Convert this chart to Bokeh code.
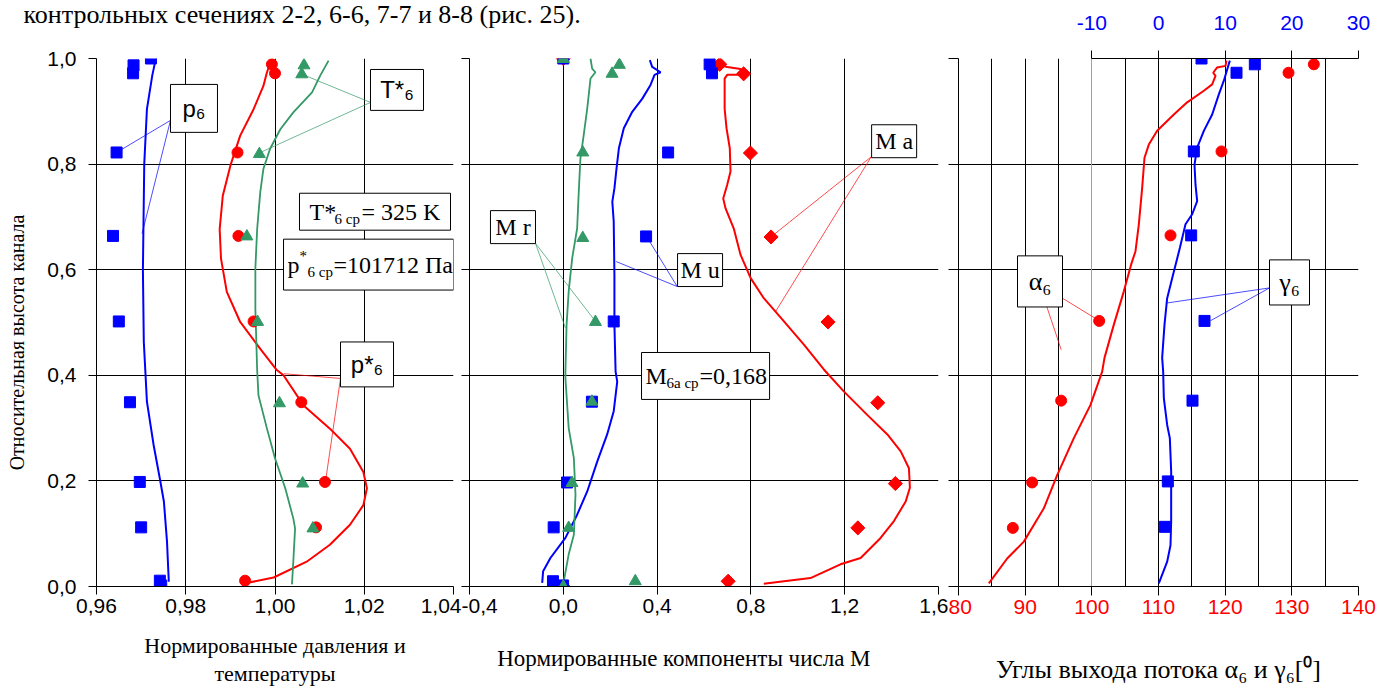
import math
from bokeh.plotting import figure
from bokeh.models import (Range1d, LinearAxis, FixedTicker, CustomJSTickFormatter,
                          Label, BoxAnnotation, Grid, Arrow)
from bokeh.layouts import row, column
from bokeh.embed import file_html
from bokeh.resources import INLINE

# ---------------- data ----------------
# Panel 1: normalised pressures and temperature
p6_x = [0.9722, 0.9683, 0.9682, 0.9645, 0.9637, 0.9650, 0.9675, 0.9697, 0.9700, 0.9742, 0.9745]
p6_y = [1.000, 0.987, 0.972, 0.822, 0.664, 0.502, 0.349, 0.198, 0.112, 0.011, 0.002]
p6_line_x = [0.9732, 0.9725, 0.9713, 0.9707, 0.9704, 0.9706, 0.9710, 0.9713, 0.9728, 0.9742, 0.9751, 0.9758, 0.9762]
p6_line_y = [0.996, 0.968, 0.904, 0.800, 0.599, 0.463, 0.399, 0.350, 0.268, 0.204, 0.161, 0.085, 0.009]

ps_x = [0.9993, 1.0000, 0.9916, 0.9918, 0.9952, 1.0059, 1.0112, 1.0092, 0.9933]
ps_y = [0.989, 0.972, 0.822, 0.664, 0.502, 0.349, 0.198, 0.112, 0.011]
ps_line_x = [0.9991, 0.9982, 0.9974, 0.9952, 0.9922, 0.9900, 0.9883, 0.9876, 0.9879, 0.9892, 0.9922,
             0.9967, 1.0004, 1.0019, 1.0064, 1.0123, 1.0168, 1.0198, 1.0206, 1.0198, 1.0168, 1.0123,
             1.0071, 0.9997, 0.9933]
ps_line_y = [0.996, 0.974, 0.948, 0.904, 0.854, 0.797, 0.740, 0.677, 0.621, 0.558, 0.501,
             0.450, 0.410, 0.400, 0.343, 0.299, 0.261, 0.217, 0.186, 0.154, 0.117, 0.079,
             0.047, 0.017, 0.006]

ts_x = [1.0065, 1.0060, 0.9965, 0.9937, 0.9961, 1.0010, 1.0062, 1.0085]
ts_y = [0.987, 0.970, 0.819, 0.663, 0.501, 0.347, 0.195, 0.110]
ts_line_x = [1.0120, 1.0101, 1.0083, 1.0041, 1.0012, 0.9989, 0.9974, 0.9967, 0.9960, 0.9956,
             0.9956, 0.9960, 0.9963, 0.9982, 1.0000, 1.0023, 1.0041, 1.0045, 1.0041, 1.0038]
ts_line_y = [0.996, 0.967, 0.936, 0.898, 0.866, 0.829, 0.791, 0.747, 0.677, 0.602,
             0.526, 0.410, 0.362, 0.299, 0.243, 0.186, 0.129, 0.110, 0.047, 0.004]

# Panel 2: Mach number components
mu_x = [0.000, 0.624, 0.634, 0.447, 0.353, 0.215, 0.122, 0.016, -0.041, -0.044, -0.001]
mu_y = [1.000, 0.989, 0.972, 0.822, 0.663, 0.502, 0.350, 0.197, 0.112, 0.010, 0.002]
mr_x = [0.000, 0.239, 0.208, 0.083, 0.083, 0.137, 0.122, 0.037, 0.023, 0.307, 0.000]
mr_y = [0.999, 0.988, 0.971, 0.822, 0.660, 0.501, 0.350, 0.196, 0.111, 0.010, 0.000]
ma_x = [0.000, 0.667, 0.769, 0.798, 0.886, 1.129, 1.341, 1.416, 1.256, 0.703, 0.000]
ma_y = [1.000, 0.989, 0.971, 0.821, 0.662, 0.501, 0.348, 0.195, 0.111, 0.010, 0.000]

mr_line_x = [0.116, 0.123, 0.137, 0.116, 0.102, 0.087, 0.073, 0.066, 0.059, 0.038, 0.023,
             0.014, 0.009, 0.009, 0.023, 0.045, 0.052, 0.045, 0.023, 0.002]
mr_line_y = [1.000, 0.981, 0.974, 0.962, 0.905, 0.855, 0.811, 0.748, 0.678, 0.622, 0.559,
             0.496, 0.407, 0.395, 0.300, 0.243, 0.174, 0.098, 0.061, 0.010]
mu_line_x = [0.369, 0.379, 0.415, 0.389, 0.372, 0.337, 0.294, 0.258, 0.237, 0.227, 0.218, 0.209,
             0.215, 0.218, 0.218, 0.223, 0.230, 0.215, 0.187, 0.145, 0.102, 0.059, 0.009,
             -0.055, -0.086, -0.090]
mu_line_y = [0.997, 0.984, 0.974, 0.969, 0.950, 0.924, 0.899, 0.868, 0.830, 0.792, 0.754, 0.729,
             0.691, 0.590, 0.496, 0.407, 0.388, 0.332, 0.288, 0.237, 0.180, 0.136, 0.092,
             0.054, 0.029, 0.007]
ma_line_x = [0.657, 0.663, 0.699, 0.756, 0.768, 0.756, 0.699, 0.688, 0.688, 0.696, 0.710, 0.713,
             0.699, 0.682, 0.692, 0.727, 0.756, 0.799, 0.855, 0.941, 1.026, 1.111, 1.197, 1.296,
             1.382, 1.439, 1.474, 1.478, 1.460, 1.410, 1.353, 1.268, 1.182, 1.054, 0.941, 0.855]
ma_line_y = [0.997, 0.988, 0.984, 0.980, 0.972, 0.969, 0.969, 0.962, 0.905, 0.868, 0.830, 0.786,
             0.761, 0.735, 0.716, 0.678, 0.628, 0.584, 0.546, 0.502, 0.458, 0.411, 0.369, 0.325,
             0.288, 0.256, 0.224, 0.187, 0.161, 0.124, 0.092, 0.054, 0.042, 0.016, 0.010, 0.005]

# Panel 3: flow angles (alpha on bottom axis, gamma on top axis)
al_x = [133.3, 129.5, 119.45, 111.8, 101.1, 95.4, 91.05, 88.15]
al_y = [0.989, 0.973, 0.824, 0.665, 0.503, 0.352, 0.197, 0.111]
ga_x = [6.45, 14.45, 11.7, 5.3, 4.9, 6.9, 5.1, 1.4, 0.95]
ga_y = [1.000, 0.989, 0.973, 0.824, 0.665, 0.503, 0.352, 0.199, 0.113]
al_line_x = [120.2, 120.05, 118.8, 118.2, 118.55, 118.05, 116.8, 114.3, 112.3, 109.8, 108.55,
             107.9, 107.55, 107.05, 106.55, 105.9, 104.8, 103.3, 101.9, 101.55, 99.8, 97.3,
             94.8, 92.8, 89.8, 87.3, 84.55]
al_line_y = [0.996, 0.986, 0.983, 0.973, 0.967, 0.951, 0.939, 0.917, 0.894, 0.863, 0.837,
             0.812, 0.755, 0.686, 0.635, 0.610, 0.559, 0.496, 0.433, 0.407, 0.344, 0.281,
             0.211, 0.148, 0.085, 0.053, 0.006]
ga_line_x = [10.7, 9.8, 9.05, 8.05, 6.8, 5.8, 5.4, 5.55, 5.8, 5.05, 4.05, 3.2, 2.05, 1.3, 0.9,
             0.55, 0.7, 0.8, 1.3, 1.7, 1.9, 1.9, 1.8, 1.3, 0.05]
ga_line_y = [0.996, 0.958, 0.932, 0.894, 0.863, 0.831, 0.799, 0.761, 0.730, 0.705, 0.686, 0.641,
             0.584, 0.546, 0.496, 0.433, 0.407, 0.357, 0.306, 0.281, 0.218, 0.123, 0.078, 0.047,
             0.006]

y_ticks = [0.0, 0.2, 0.4, 0.6, 0.8, 1.0]
x1_ticks = [0.96, 0.98, 1.00, 1.02, 1.04]
x2_ticks = [-0.4, 0.0, 0.4, 0.8, 1.2, 1.6]
x3_ticks = [80, 90, 100, 110, 120, 130, 140]
x3_grid = [85, 90, 95, 105, 110, 115, 120, 125, 130, 135, 140]
top_ticks = [-10, 0, 10, 20, 30]

# ---------------- style ----------------
SANS = "Liberation Sans"
SERIF = "Liberation Serif"
BLUE = "#0000FF"
RED = "#FF0000"
GREEN = "#339966"
H = 689
TOP = 58
FRAME_H = 528
BAND = 30          # height of the strip with the running document text
NB = "\u00a0"


def fmt(n):
    return CustomJSTickFormatter(code="return tick.toFixed(%d).replace('.', ',');" % n)


def blank():
    return CustomJSTickFormatter(code="return '';")


def make_fig(width, height, top, xr, left, right):
    p = figure(width=width, height=height, x_range=xr, y_range=Range1d(0, 1),
               output_backend="svg", toolbar_location=None, title=None,
               min_border_left=left, min_border_right=right,
               min_border_top=top, min_border_bottom=height - top - FRAME_H)
    p.outline_line_color = None
    p.background_fill_color = "white"
    p.border_fill_color = "white"
    for ax in p.axis:
        ax.axis_line_color = "black"
        ax.major_tick_line_color = "black"
        ax.major_tick_out = 8
        ax.major_tick_in = 0
        ax.minor_tick_out = 0
        ax.minor_tick_in = 0
        ax.major_label_text_font = SANS
        ax.major_label_text_font_size = "21px"
        ax.major_label_text_color = "black"
    p.xgrid.grid_line_color = "black"
    p.ygrid.grid_line_color = "black"
    p.ygrid.ticker = FixedTicker(ticks=y_ticks[1:])
    p.yaxis.ticker = FixedTicker(ticks=y_ticks)
    return p


def set_axis_label(ax, text, size, standoff):
    ax.axis_label = text
    ax.axis_label_text_font = SERIF
    ax.axis_label_text_font_size = "%dpx" % size
    ax.axis_label_text_font_style = "normal"
    ax.axis_label_text_color = "black"
    ax.axis_label_standoff = standoff


def text_axis(p, place, text, size, standoff):
    # an axis without line, ticks or tick labels, carrying only a title text
    ax = LinearAxis(ticker=FixedTicker(ticks=[]), axis_line_color=None,
                    major_tick_line_color=None, minor_tick_line_color=None,
                    major_tick_out=0, major_tick_in=0, minor_tick_out=0, minor_tick_in=0,
                    major_label_standoff=0, formatter=blank())
    set_axis_label(ax, text, size, standoff)
    p.add_layout(ax, place)


def label(p, x, y, s, font, size, dx=0, dy=0, align="center"):
    p.add_layout(Label(x=x, y=y, text=s, text_font=font, text_font_size="%dpx" % size,
                       text_color="black", x_offset=dx, y_offset=dy, text_align=align,
                       text_baseline="middle"))


def box(p, l, r, t, b):
    p.add_layout(BoxAnnotation(left=l, right=r, top=t, bottom=b, fill_color="white",
                               fill_alpha=1.0, line_color="black", line_alpha=1.0,
                               line_width=1))


def leader(p, x0, y0, ends, color):
    for (x1, y1) in ends:
        p.add_layout(Arrow(x_start=x0, y_start=y0, x_end=x1, y_end=y1, end=None, start=None,
                           line_color=color, line_width=1, line_alpha=0.7))


# ================= running text strip =================
strip = figure(width=948, height=BAND, x_range=Range1d(0, 948), y_range=Range1d(0, BAND),
               output_backend="svg", toolbar_location=None, title=None, min_border=0,
               x_axis_location=None, y_axis_location=None)
strip.outline_line_color = None
strip.grid.visible = False
strip.background_fill_color = "white"
strip.border_fill_color = "white"
label(strip, 23, 16, "контрольных сечениях 2-2, 6-6, 7-7 и 8-8 (рис. 25).", SERIF, 26,
      align="left")

# ================= Panel 1 =================
p1 = make_fig(461, H - BAND, TOP - BAND, Range1d(0.96, 1.04), 96, 8)
p1.xaxis.ticker = FixedTicker(ticks=x1_ticks)
p1.xaxis.formatter = fmt(2)
p1.xaxis.major_label_standoff = 4
p1.yaxis.formatter = fmt(1)
p1.yaxis.major_label_standoff = 12
set_axis_label(p1.yaxis[0], "Относительная высота канала" + NB * 8, 20, 16)
set_axis_label(p1.xaxis[0], "Нормированные давления и", 22, 17)
p1.xgrid.ticker = FixedTicker(ticks=x1_ticks[1:-1])
text_axis(p1, "below", "температуры", 22, 0)

p1.line(p6_line_x, p6_line_y, line_color=BLUE, line_width=2)
p1.line(ps_line_x, ps_line_y, line_color=RED, line_width=2)
p1.line(ts_line_x, ts_line_y, line_color=GREEN, line_width=1.8)
p1.scatter(p6_x, p6_y, marker="square", size=11, color=BLUE)
p1.scatter(ps_x, ps_y, marker="circle", size=11, color=RED)
p1.scatter(ts_x, ts_y, marker="triangle", size=12, color=GREEN)

leader(p1, 0.97658, 0.8828, [(0.9645, 0.822), (0.9702, 0.668)], BLUE)
leader(p1, 1.0214, 0.9168, [(1.0061, 0.970), (0.9967, 0.822)], GREEN)
leader(p1, 1.01468, 0.394, [(1.0020, 0.403), (1.0113, 0.198)], RED)

box(p1, 0.97658, 0.98711, 0.9509, 0.8601)
label(p1, 0.98185, 0.9055, "p\u2086", SANS, 24)
box(p1, 1.0214, 1.03328, 0.97921, 0.9017)
label(p1, 1.02734, 0.94046, "T*\u2086", SANS, 24)
box(p1, 1.00549, 1.03933, 0.7448, 0.67486)
label(p1, 1.00773, 0.70983, "T*", SERIF, 24, align="left")
label(p1, 1.00773, 0.70983, "6 ср", SERIF, 15, dx=25, dy=-7, align="left")
label(p1, 1.00773, 0.70983, "= 325 K", SERIF, 24, dx=52, align="left")
box(p1, 1.00191, 1.04, 0.65784, 0.56144)
label(p1, 1.0028, 0.60964, "p", SERIF, 24, align="left")
label(p1, 1.0028, 0.60964, "*", SERIF, 15, dx=12, dy=9, align="left")
label(p1, 1.0028, 0.60964, "6 ср", SERIF, 15, dx=20, dy=-7, align="left")
label(p1, 1.0028, 0.60964, "=101712 Па", SERIF, 24, dx=46, align="left")
box(p1, 1.01468, 1.02656, 0.46314, 0.37807)
label(p1, 1.02062, 0.4206, "p*\u2086", SANS, 24)

# ================= Panel 2 =================
p2 = make_fig(487, H - BAND, TOP - BAND, Range1d(-0.4, 1.6), 8, 10)
p2.xaxis.ticker = FixedTicker(ticks=x2_ticks)
p2.xaxis.formatter = fmt(1)
p2.xaxis.major_label_standoff = 4
p2.yaxis.formatter = blank()
p2.yaxis.major_label_standoff = 0
set_axis_label(p2.xaxis[0], "Нормированные компоненты числа М" + NB * 7, 23, 30)
p2.xgrid.ticker = FixedTicker(ticks=x2_ticks[1:-1])
p2.add_layout(Grid(dimension=0, ticker=FixedTicker(ticks=[1.6]), grid_line_color="#a0a0a0"))

p2.line(ma_line_x, ma_line_y, line_color=RED, line_width=2)
p2.line(mu_line_x, mu_line_y, line_color=BLUE, line_width=2)
p2.line(mr_line_x, mr_line_y, line_color=GREEN, line_width=1.8)
p2.scatter(ma_x, ma_y, marker="square", angle=math.pi / 4, size=10, color=RED)
p2.scatter(mu_x, mu_y, marker="square", size=11, color=BLUE)
p2.scatter(mr_x, mr_y, marker="triangle", size=12, color=GREEN)

leader(p2, -0.1186, 0.650, [(0.0094, 0.4892), (0.1374, 0.5019)], GREEN)
leader(p2, 0.4859, 0.5681, [(0.2257, 0.6154), (0.3537, 0.6640)], BLUE)
leader(p2, 1.3136, 0.814, [(0.887, 0.6627), (0.9053, 0.5208)], RED)

box(p2, -0.3106, -0.1186, 0.7119, 0.6494)
label(p2, -0.2146, 0.68065, "M r", SERIF, 24)
box(p2, 0.4872, 0.6792, 0.6305, 0.5681)
label(p2, 0.5832, 0.5993, "M u", SERIF, 24)
box(p2, 1.3148, 1.5068, 0.8745, 0.8121)
label(p2, 1.4108, 0.8433, "M a", SERIF, 24)
box(p2, 0.3336, 0.8797, 0.4432, 0.3543)
label(p2, 0.3507, 0.39875, "M", SERIF, 24, align="left")
label(p2, 0.3507, 0.39875, "6а ср", SERIF, 15, dx=21, dy=-7, align="left")
label(p2, 0.3507, 0.39875, "=0,168", SERIF, 24, dx=54, align="left")

# ================= Panel 3 =================
p3 = make_fig(448, H, TOP, Range1d(80, 140), 10, 38)
p3.extra_x_ranges = {"g": Range1d(-30, 30)}
p3.xaxis.ticker = FixedTicker(ticks=x3_ticks)
p3.xaxis.formatter = fmt(0)
p3.xaxis.major_label_text_color = RED
p3.xaxis.major_tick_out = 9
p3.xaxis.major_label_standoff = 4
p3.yaxis.formatter = blank()
p3.yaxis.major_label_standoff = 0
p3.yaxis.major_tick_out = 10
set_axis_label(p3.xaxis[0], "Углы выхода потока α\u2086 и γ\u2086[\u2070]", 26, 38)
p3.xgrid.ticker = FixedTicker(ticks=x3_grid)
p3.add_layout(Grid(dimension=0, ticker=FixedTicker(ticks=[100]), grid_line_color="#a0a0a0"))

top_axis = LinearAxis(x_range_name="g", ticker=FixedTicker(ticks=top_ticks), bounds=(-10, 30),
                      formatter=fmt(0))
top_axis.axis_line_color = "black"
top_axis.major_tick_line_color = "black"
top_axis.major_tick_out = 8
top_axis.major_tick_in = 0
top_axis.minor_tick_out = 0
top_axis.minor_tick_in = 0
top_axis.major_label_text_font = SANS
top_axis.major_label_text_font_size = "21px"
top_axis.major_label_text_color = BLUE
top_axis.major_label_standoff = 21
p3.add_layout(top_axis, "above")

p3.line(al_line_x, al_line_y, line_color=RED, line_width=2)
p3.line(ga_line_x, ga_line_y, line_color=BLUE, line_width=2, x_range_name="g")
p3.scatter(al_x, al_y, marker="circle", size=11, color=RED)
p3.scatter(ga_x, ga_y, marker="square", size=11, color=BLUE, x_range_name="g")

leader(p3, 94.055, 0.5579, [(101.105, 0.5034)], RED)
leader(p3, 92.555, 0.556, [(95.405, 0.4484)], RED)
leader(p3, 126.65, 0.5655, [(111.305, 0.537), (117.8, 0.5034)], BLUE)

box(p3, 88.85, 95.6, 0.6262, 0.5294)
label(p3, 92.225, 0.5778, "α\u2086", SERIF, 26)
box(p3, 126.65, 132.65, 0.6186, 0.5332)
label(p3, 129.65, 0.5759, "γ\u2086", SERIF, 26)

layout = row(column(strip, row(p1, p2)), p3)
open("out.html", "w").write(file_html(layout, INLINE))
